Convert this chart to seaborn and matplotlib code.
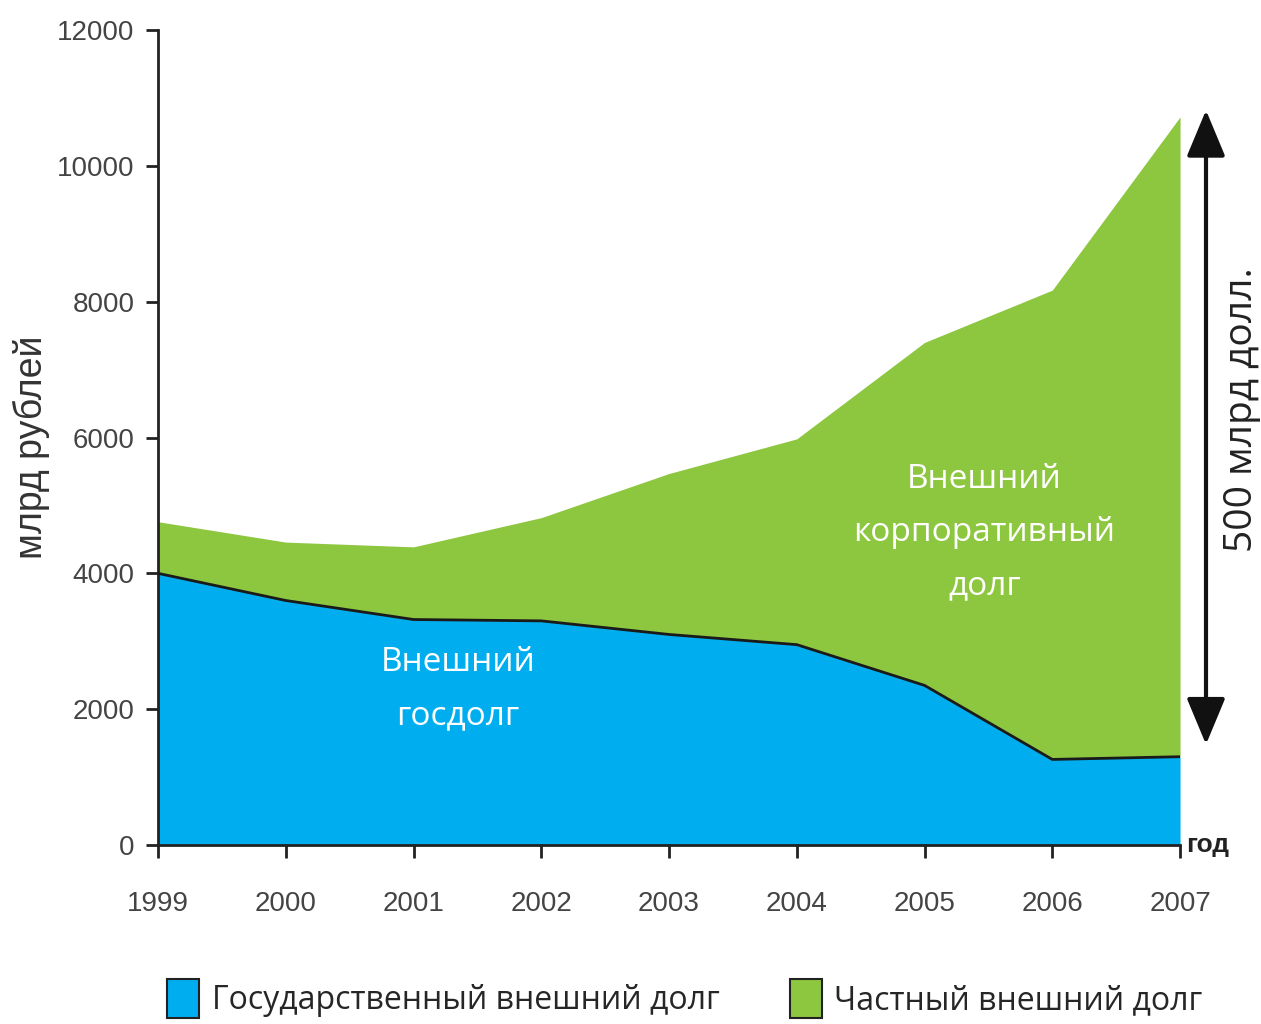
import numpy as np
import pandas as pd
import matplotlib
matplotlib.use("Agg")
import matplotlib.pyplot as plt
import seaborn as sns
from matplotlib.patches import Patch

years = [1999, 2000, 2001, 2002, 2003, 2004, 2005, 2006, 2007]
state_debt = [4000, 3600, 3320, 3300, 3100, 2950, 2350, 1260, 1300]
private_debt = [760, 860, 1070, 1520, 2370, 3030, 5050, 6910, 9420]
yticks = [0, 2000, 4000, 6000, 8000, 10000, 12000]
legend_labels = ["Государственный внешний долг", "Частный внешний долг"]

BLUE = "#00AEEF"
GREEN = "#8DC63F"

sns.set_theme(style="ticks")
plt.rcParams["font.family"] = ["Liberation Sans", "DejaVu Sans"]

df = pd.DataFrame({"year": years, "state": state_debt, "private": private_debt})
df["total"] = df["state"] + df["private"]

fig = plt.figure(figsize=(12.61, 10.24), dpi=100)
ax = fig.add_axes([0.1253, 0.1748, 0.8105, 0.7959])

ax.fill_between(df["year"], 0, df["state"], color=BLUE, linewidth=0, zorder=2)
ax.fill_between(df["year"], df["state"], df["total"], color=GREEN, linewidth=0, zorder=2)
sns.lineplot(data=df, x="year", y="state", color="#1a1a1a", linewidth=2, ax=ax, zorder=3)

ax.set_xlim(1999, 2007)
ax.set_ylim(0, 12000)
ax.set_xticks(years)
ax.set_yticks(yticks)
ax.set_xticklabels([str(y) for y in years])
ax.tick_params(axis="both", labelsize=20, labelcolor="#444444", color="#222222",
               width=2, length=9, direction="out")
ax.tick_params(axis="x", pad=24)
ax.tick_params(axis="y", pad=8)
for s in ["top", "right"]:
    ax.spines[s].set_visible(False)
for s in ["left", "bottom"]:
    ax.spines[s].set_linewidth(2)
    ax.spines[s].set_color("#222222")
ax.set_xlabel("")
ax.set_ylabel("млрд рублей", fontsize=27, color="#333333")
ax.yaxis.set_label_coords(-0.106, 0.488)

ax.text(2001.35, 2300, "Внешний\nгосдолг", color="white", fontsize=24,
        ha="center", va="center", linespacing=1.8, family=["Open Sans", "DejaVu Sans"])
ax.text(2005.47, 4600, "Внешний\nкорпоративный\nдолг", color="white", fontsize=24,
        ha="center", va="center", linespacing=1.8, family=["Open Sans", "DejaVu Sans"])

ax.text(1.006, 0.0, "год", transform=ax.transAxes, fontsize=19, fontweight="bold",
        ha="left", va="center", color="#222222")

ax.annotate("", xy=(1.0254, 0.905), xytext=(1.0254, 0.12), xycoords="axes fraction",
            arrowprops=dict(arrowstyle="<|-|>,head_length=2.4,head_width=1.0",
                            color="#111111", lw=3), annotation_clip=False)
ax.text(1.061, 0.534, "500 млрд долл.", transform=ax.transAxes, rotation=90,
        fontsize=28, ha="center", va="center", color="#222222",
        family=["Open Sans", "DejaVu Sans"])

handles = [Patch(facecolor=BLUE, edgecolor="#222222", linewidth=1.5),
           Patch(facecolor=GREEN, edgecolor="#222222", linewidth=1.5)]
fig.legend(handles, legend_labels, loc="lower center", bbox_to_anchor=(0.543, -0.022),
           ncol=2, frameon=False, handlelength=1.0, handleheight=1.5,
           columnspacing=2.2, handletextpad=0.4,
           prop={"family": ["Open Sans", "DejaVu Sans"], "size": 23})

fig.savefig("out.png", dpi=100, facecolor="white")
